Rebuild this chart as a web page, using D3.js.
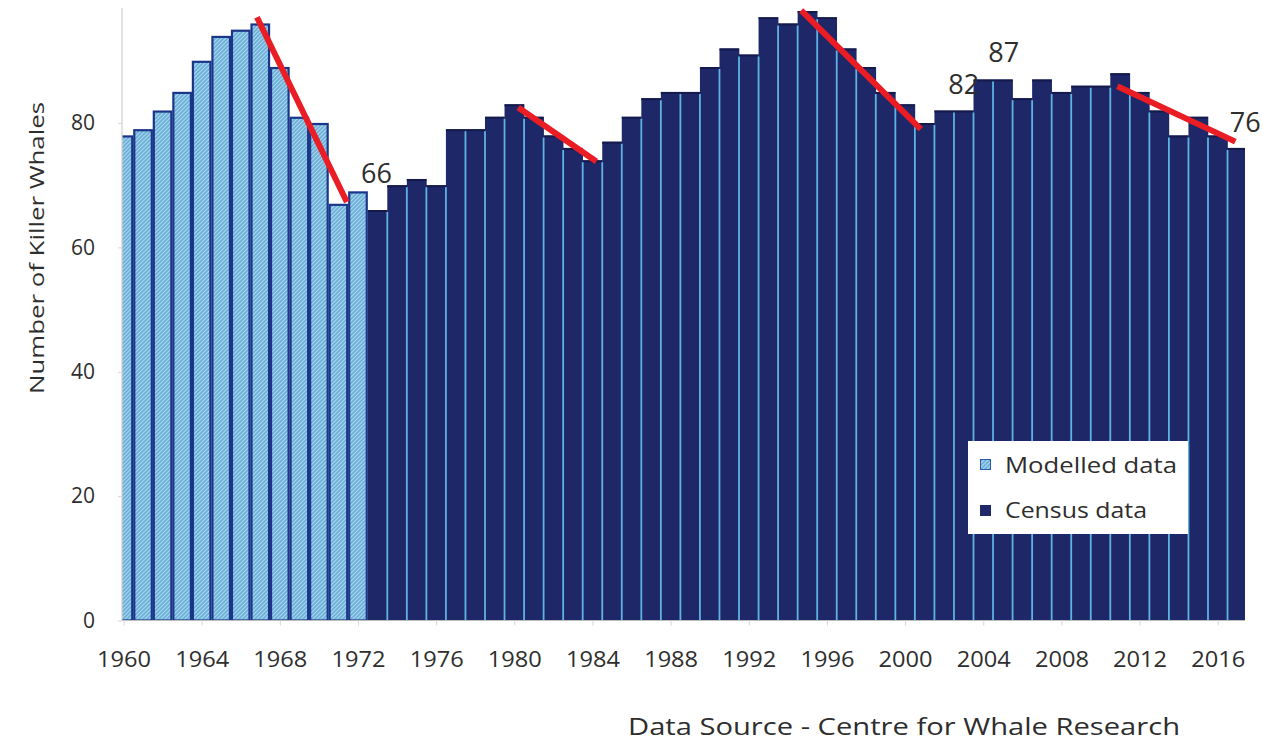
<!DOCTYPE html>
<html>
<head>
<meta charset="utf-8">
<script src="https://cdn.jsdelivr.net/npm/d3@7"></script>
<style>
  html, body { margin: 0; padding: 0; background: #fff; }
  svg { display: block; }
  text { font-family: "Open Sans", "Noto Sans", sans-serif; fill: #2e2e2e; }
</style>
</head>
<body>
<svg id="chart" width="1266" height="744"></svg>
<script>
// ---------------- data ----------------
const modelledYears = [1960,1961,1962,1963,1964,1965,1966,1967,1968,1969,1970,1971,1972];
const modelledValues = [78,79,82,85,90,94,95,96,89,81,80,67,69];

const censusYears = [1973,1974,1975,1976,1977,1978,1979,1980,1981,1982,1983,1984,1985,1986,1987,1988,1989,
  1990,1991,1992,1993,1994,1995,1996,1997,1998,1999,2000,2001,2002,2003,2004,2005,2006,2007,2008,2009,
  2010,2011,2012,2013,2014,2015,2016,2017];
const censusValues = [66,70,71,70,79,79,81,83,81,78,76,74,77,81,84,85,85,
  89,92,91,97,96,98,97,92,89,85,83,80,82,82,87,87,84,87,85,86,
  86,88,85,82,78,81,78,76];

const xTickYears = [1960,1964,1968,1972,1976,1980,1984,1988,1992,1996,2000,2004,2008,2012,2016];
const yTickValues = [0,20,40,60,80];

const labelYears = [1973, 2003, 2005, 2017];
const labelTexts = ["66", "82", "87", "76"];

// hand-drawn red trend segments: [startYear, startValue, endYear, endValue]
const trendStartYears = [1966.83, 1980.2, 1994.68, 2010.86];
const trendStartValues = [97.0, 82.5, 98.1, 85.9];
const trendEndYears = [1971.43, 1984.2, 2000.8, 2016.9];
const trendEndValues = [67.3, 73.8, 79.0, 77.0];

const legendLabels = ["Modelled data", "Census data"];
const yTitle = "Number of Killer Whales";
const sourceText = "Data Source - Centre for Whale Research";

// ---------------- layout ----------------
const svg = d3.select("#chart");
const plotLeft = 122, plotRight = 1245, plotTop = 8, baseY = 620.5;
const x = d3.scaleLinear().domain([1960, 2017]).range([123.5, 1237.3]);
const step = x(1961) - x(1960);
const y = d3.scaleLinear().domain([0, 80]).range([baseY, 123]);

const defs = svg.append("defs");
const pat = defs.append("pattern").attr("id", "hatch").attr("patternUnits", "userSpaceOnUse")
  .attr("width", 4).attr("height", 4);
pat.append("rect").attr("width", 4).attr("height", 4).attr("fill", "#6aaed8");
pat.append("path").attr("d", "M0,4 L4,0 M-1,1 L1,-1 M3,5 L5,3").attr("stroke", "#a9d7ef").attr("stroke-width", 1.1);
pat.append("path").attr("d", "M0,0 L4,4").attr("stroke", "#86c0e2").attr("stroke-width", 0.7);

defs.append("clipPath").attr("id", "plotClip").append("rect")
  .attr("x", plotLeft).attr("y", plotTop).attr("width", plotRight - plotLeft).attr("height", baseY - plotTop);

const modelled = modelledYears.map((yr, i) => ({ yr, v: modelledValues[i] }));
const census = censusYears.map((yr, i) => ({ yr, v: censusValues[i] }));

const g = svg.append("g").attr("clip-path", "url(#plotClip)");

// census bars
g.selectAll("rect.census").data(census).enter().append("rect")
  .attr("class", "census")
  .attr("x", d => x(d.yr) - step / 2)
  .attr("width", step + 0.3)
  .attr("y", d => y(d.v))
  .attr("height", d => baseY - y(d.v))
  .attr("fill", "#1e2868");
// darker top edge
g.selectAll("line.ctop").data(census).enter().append("line")
  .attr("x1", d => x(d.yr) - step / 2).attr("x2", d => x(d.yr) + step / 2)
  .attr("y1", d => y(d.v) + 1).attr("y2", d => y(d.v) + 1)
  .attr("stroke", "#141b4c").attr("stroke-width", 2);
// light separators between census bars
const seps = census.slice(1).map((d, i) => ({ xb: x(d.yr) - step / 2, top: Math.max(y(d.v), y(census[i].v)) }));
g.selectAll("line.sep").data(seps).enter().append("line")
  .attr("x1", d => d.xb).attr("x2", d => d.xb)
  .attr("y1", d => d.top + 2).attr("y2", baseY)
  .attr("stroke", "#5db3e2").attr("stroke-width", 1.8);

// modelled bars
g.selectAll("rect.model").data(modelled).enter().append("rect")
  .attr("class", "model")
  .attr("x", d => x(d.yr) - step / 2 + 1)
  .attr("width", step - 2)
  .attr("y", d => y(d.v) + 1)
  .attr("height", d => baseY - y(d.v) - 1)
  .attr("fill", "url(#hatch)")
  .attr("stroke", "#1b3589")
  .attr("stroke-width", 2.2);

// axes
svg.append("line").attr("x1", plotLeft).attr("x2", plotLeft).attr("y1", plotTop).attr("y2", baseY)
  .attr("stroke", "#cfcfcf").attr("stroke-width", 1.2);
svg.append("line").attr("x1", plotLeft).attr("x2", plotRight).attr("y1", baseY).attr("y2", baseY)
  .attr("stroke", "#bdbdbd").attr("stroke-width", 1.2);

const xAxis = svg.append("g").attr("transform", `translate(0,${baseY})`)
  .call(d3.axisBottom(x).tickValues(xTickYears).tickFormat(d3.format("d")).tickSize(5));
xAxis.select(".domain").remove();
xAxis.selectAll("line").attr("stroke", "#d6d6d6");
xAxis.selectAll("text").attr("y", 31).attr("font-size", 22)
  .attr("font-family", "'Open Sans', sans-serif").attr("fill", "#2e2e2e")
  .attr("textLength", 54).attr("lengthAdjust", "spacingAndGlyphs");

const yAxis = svg.append("g").attr("transform", `translate(${plotLeft},0)`)
  .call(d3.axisLeft(y).tickValues(yTickValues).tickSize(4));
yAxis.select(".domain").remove();
yAxis.selectAll("line").attr("stroke", "#d6d6d6");
yAxis.selectAll("text").attr("x", -27).attr("font-size", 21)
  .attr("font-family", "'Open Sans', sans-serif").attr("fill", "#2e2e2e");

// red trend lines
const trends = trendStartYears.map((s, i) => ({ x0: s, y0: trendStartValues[i], x1: trendEndYears[i], y1: trendEndValues[i] }));
svg.selectAll("line.trend").data(trends).enter().append("line")
  .attr("x1", d => x(d.x0)).attr("y1", d => Math.max(y(d.y0), plotTop))
  .attr("x2", d => x(d.x1)).attr("y2", d => y(d.y1))
  .attr("stroke", "#ea1d25").attr("stroke-width", 6);

// data labels
const allData = modelled.concat(census);
const labelDy = [27, 17, 17, 16];
const labelDx = [-1, 0, 1, 8];
svg.selectAll("text.dl").data(labelYears).enter().append("text")
  .attr("x", (d, i) => x(d) + labelDx[i])
  .attr("y", (d, i) => y(allData.find(a => a.yr === d).v) - labelDy[i])
  .attr("text-anchor", "middle").attr("font-size", 27)
  .attr("fill", "#2b2b2b")
  .text((d, i) => labelTexts[i]);

// legend
const lg = svg.append("g");
lg.append("rect").attr("x", 968).attr("y", 441).attr("width", 220).attr("height", 93).attr("fill", "#fff");
lg.append("rect").attr("x", 980.5).attr("y", 459.5).attr("width", 10).attr("height", 10)
  .attr("fill", "url(#hatch)").attr("stroke", "#2a5aa8").attr("stroke-width", 1);
lg.append("rect").attr("x", 980).attr("y", 505).attr("width", 11).attr("height", 11).attr("fill", "#1e2868");
lg.selectAll("text").data(legendLabels).enter().append("text")
  .attr("x", 1005).attr("y", (d, i) => 473 + i * 45)
  .attr("font-size", 22).attr("fill", "#2b2b2b")
  .attr("textLength", (d, i) => [172, 142][i]).attr("lengthAdjust", "spacingAndGlyphs")
  .text(d => d);

// titles
svg.append("text").attr("transform", "translate(44,248) rotate(-90)")
  .attr("text-anchor", "middle").attr("font-size", 20).attr("fill", "#2e2e2e")
  .attr("textLength", 292).attr("lengthAdjust", "spacingAndGlyphs")
  .text(yTitle);
svg.append("text").attr("x", 628).attr("y", 735).attr("font-size", 24).attr("fill", "#2e2e2e")
  .attr("textLength", 552).attr("lengthAdjust", "spacingAndGlyphs")
  .text(sourceText);
</script>
</body>
</html>
